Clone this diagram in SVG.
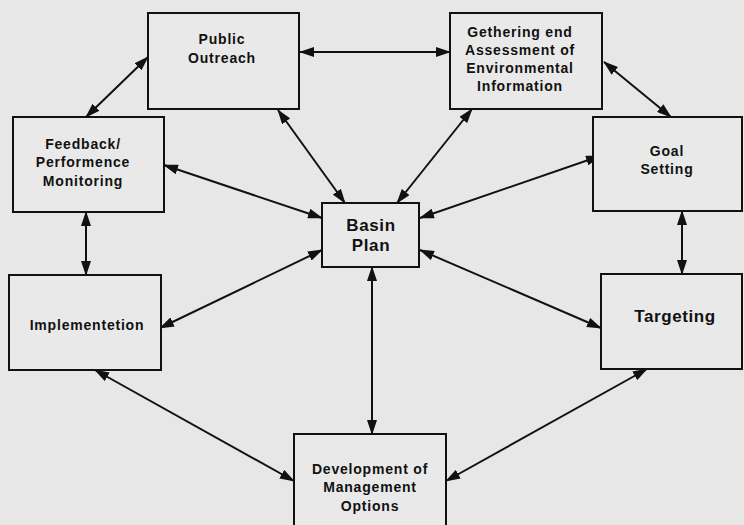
<svg xmlns="http://www.w3.org/2000/svg" width="744" height="525" viewBox="0 0 744 525">
<defs>
<style>
.bg{fill:#e7e7e7}
.box{fill:#e9e9e9;stroke:#111;stroke-width:2}
.t{font-family:"Liberation Sans",Arial,sans-serif;font-weight:bold;font-size:14px;fill:#111;text-anchor:middle;letter-spacing:0.8px}
.big{font-size:17px;letter-spacing:0.6px}
.c{stroke:#111;stroke-width:2;fill:none;marker-start:url(#ah);marker-end:url(#ah)}
</style>
<marker id="ah" markerUnits="userSpaceOnUse" markerWidth="15" markerHeight="10" refX="14" refY="5" orient="auto-start-reverse" viewBox="0 0 15 10">
<path d="M0,0 L15,5 L0,10 z" fill="#111"/>
</marker>
</defs>
<rect class="bg" x="0" y="0" width="744" height="525"/>
<g id="connectors">
<line class="c" x1="300" y1="52" x2="450" y2="52"/>
<line class="c" x1="148" y1="57" x2="86" y2="117"/>
<line class="c" x1="278" y1="110" x2="345" y2="203"/>
<line class="c" x1="164" y1="165" x2="322" y2="218"/>
<line class="c" x1="86" y1="212" x2="86" y2="275"/>
<line class="c" x1="160" y1="328" x2="322" y2="250"/>
<line class="c" x1="472" y1="109" x2="397" y2="203"/>
<line class="c" x1="604" y1="62" x2="671" y2="117"/>
<line class="c" x1="600" y1="156" x2="420" y2="218"/>
<line class="c" x1="682" y1="211" x2="682" y2="274"/>
<line class="c" x1="420" y1="250" x2="601" y2="328"/>
<line class="c" x1="372" y1="267" x2="372" y2="434"/>
<line class="c" x1="95" y1="370" x2="294" y2="481"/>
<line class="c" x1="647" y1="369" x2="446" y2="481"/>
</g>
<g id="public-outreach">
<rect class="box" x="148" y="13" width="151" height="96"/>
<text class="t" x="222" y="44">Public</text>
<text class="t" x="222" y="63">Outreach</text>
</g>
<g id="gethering">
<rect class="box" x="450" y="13" width="152" height="96"/>
<text class="t" x="520" y="37">Gethering end</text>
<text class="t" x="520" y="55">Assessment of</text>
<text class="t" x="520" y="73">Environmental</text>
<text class="t" x="520" y="91">Information</text>
</g>
<g id="feedback">
<rect class="box" x="13" y="117" width="151" height="95"/>
<text class="t" x="83" y="149">Feedback/</text>
<text class="t" x="83" y="167">Performence</text>
<text class="t" x="83" y="186">Monitoring</text>
</g>
<g id="goal-setting">
<rect class="box" x="593" y="117" width="149" height="94"/>
<text class="t" x="667" y="156">Goal</text>
<text class="t" x="667" y="174">Setting</text>
</g>
<g id="basin-plan">
<rect class="box" x="322" y="203" width="97" height="64"/>
<text class="t big" x="371" y="231">Basin</text>
<text class="t big" x="371" y="251">Plan</text>
</g>
<g id="implementation">
<rect class="box" x="9" y="275" width="152" height="95"/>
<text class="t" x="87" y="330">Implementetion</text>
</g>
<g id="targeting">
<rect class="box" x="601" y="274" width="141" height="95"/>
<text class="t big" x="675" y="322">Targeting</text>
</g>
<g id="development">
<rect class="box" x="294" y="434" width="152" height="100"/>
<text class="t" x="370" y="474">Development of</text>
<text class="t" x="370" y="492">Management</text>
<text class="t" x="370" y="511">Options</text>
</g>
</svg>
